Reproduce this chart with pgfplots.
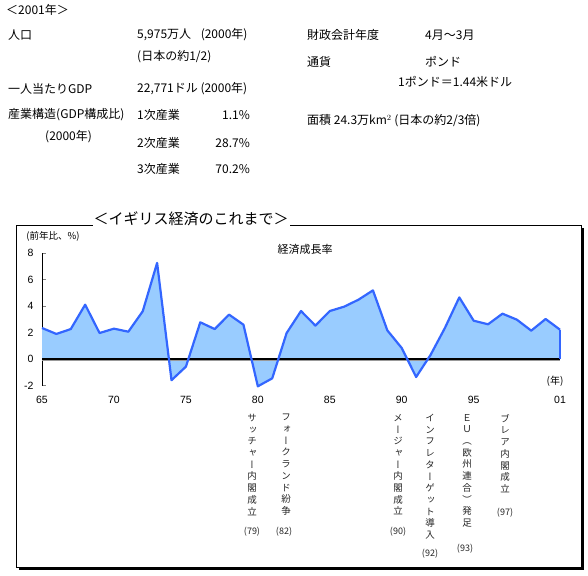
\documentclass[border=0pt]{standalone}
\usepackage{pgfplots}
\pgfplotsset{compat=1.18}
\usepackage{fontspec}
\setmainfont{Noto Sans CJK JP}
\newfontfamily\vfont[RawFeature=+vert]{Noto Sans CJK JP}
\newfontfamily\arialfont{Liberation Sans}
\definecolor{lineblue}{HTML}{3366FF}
\definecolor{fillblue}{HTML}{99CCFF}
\pgfplotstableread{
year g
1965 2.34
1966 1.89
1967 2.26
1968 4.10
1969 1.96
1970 2.29
1971 2.06
1972 3.60
1973 7.25
1974 -1.60
1975 -0.58
1976 2.77
1977 2.26
1978 3.35
1979 2.59
1980 -2.06
1981 -1.46
1982 1.96
1983 3.62
1984 2.52
1985 3.62
1986 3.95
1987 4.48
1988 5.18
1989 2.16
1990 0.83
1991 -1.36
1992 0.30
1993 2.34
1994 4.65
1995 2.89
1996 2.62
1997 3.42
1998 2.97
1999 2.14
2000 3.02
2001 2.21
}\growth
\begin{document}
\begin{tikzpicture}
\useasboundingbox (0,0) rectangle (588pt,-575pt);
\begin{scope}[x=1pt,y=-1pt]
% frame with shadow
\fill[black] (19,228) rectangle (584,570);
\draw[line width=1pt, fill=white] (16,225) rectangle (581,567);
% top info text
\begin{scope}[every node/.style={anchor=west, inner sep=0pt, font=\fontsize{12}{14}\selectfont}]
\node at (6,10) {＜2001年＞};
\node at (8,35) {人口};
\node at (137,35) {5,975万人\hspace{0.8em}(2000年)};
\node at (137,57) {(日本の約1/2)};
\node at (8,89) {一人当たりGDP};
\node at (137,89) {22,771ドル (2000年)};
\node at (8,115) {産業構造(GDP構成比)};
\node at (45,137) {(2000年)};
\node at (137,115) {1次産業};
\node at (137,143) {2次産業};
\node at (137,169) {3次産業};
\node[anchor=east] at (250,115) {1.1\%};
\node[anchor=east] at (250,143) {28.7\%};
\node[anchor=east] at (250,169) {70.2\%};
\node at (307,35) {財政会計年度};
\node at (425,35) {4月～3月};
\node at (307,62) {通貨};
\node at (425,62) {ポンド};
\node at (398,82) {1ポンド＝1.44米ドル};
\node at (307,121) {面積 24.3万km$^2$ (日本の約2/3倍)};
\end{scope}
% chart title over frame
\node[fill=white, inner sep=1pt, font=\fontsize{15}{17}\selectfont] at (191,219) {＜イギリス経済のこれまで＞};
\node[font=\fontsize{9.5}{11}\selectfont, inner sep=0pt] at (53,236) {(前年比、\%)};
\node[font=\fontsize{11}{13}\selectfont, inner sep=0pt] at (305,249) {経済成長率};
\node[font=\fontsize{10}{12}\selectfont, inner sep=0pt] at (555,381) {(年)};
% vertical annotations
\begin{scope}[every node/.style={anchor=north, inner sep=0pt, align=center, font=\vfont\fontsize{9.5}{11.7}\selectfont, text=black!85}]
\node at (252,414) {サ\\ッ\\チ\\ャ\\ー\\内\\閣\\成\\立};
\node at (286,414) {フ\\ォ\\ー\\ク\\ラ\\ン\\ド\\紛\\争};
\node at (398,414) {メ\\ー\\ジ\\ャ\\ー\\内\\閣\\成\\立};
\node at (430,414) {イ\\ン\\フ\\レ\\タ\\ー\\ゲ\\ッ\\ト\\導\\入};
\node at (467,414) {Ｅ\\Ｕ\\（\\欧\\州\\連\\合\\）\\発\\足};
\node at (505,414) {ブ\\レ\\ア\\内\\閣\\成\\立};
\end{scope}
\begin{scope}[every node/.style={inner sep=0pt, font=\fontsize{9}{11}\selectfont, text=black!85}]
\node at (252,532) {(79)};
\node at (284,532) {(82)};
\node at (398,532) {(90)};
\node at (430,554) {(92)};
\node at (465,549) {(93)};
\node at (505,513) {(97)};
\end{scope}
\end{scope}
\begin{axis}[
  at={(42pt,-385.5pt)}, anchor=south west,
  scale only axis, width=518pt, height=132.5pt,
  xmin=1965, xmax=2001, ymin=-2, ymax=8,
  axis lines*=left,
  x axis line style={draw=none},
  xtick={1965,1970,1975,1980,1985,1990,1995,2001},
  xticklabels={65,70,75,80,85,90,95,01},
  xtick style={draw=none},
  ytick={-2,0,2,4,6,8},
  tick align=inside, major tick length=4pt,
  y axis line style={line width=1pt},
  ytick style={line width=0.8pt},
  /pgf/number format/assume math mode=true,
  tick label style={font=\arialfont\fontsize{10.5}{12}\selectfont},
  xticklabel style={yshift=-7pt},
  yticklabel style={xshift=-5pt},
  clip=false,
]
\addplot[fill=fillblue, draw=none] table[x=year,y=g] {\growth} \closedcycle;
\addplot[black!40, line width=1.2pt] coordinates {(1965,-0.09) (2001,-0.09)};
\addplot[black, line width=2pt] coordinates {(1965,0) (2001,0)};
\addplot[lineblue, line width=2.2pt, line join=round] table[x=year,y=g] {\growth};
\addplot[lineblue, line width=2.2pt] coordinates {(2001,2.21) (2001,0)};
\end{axis}
\end{tikzpicture}
\end{document}
